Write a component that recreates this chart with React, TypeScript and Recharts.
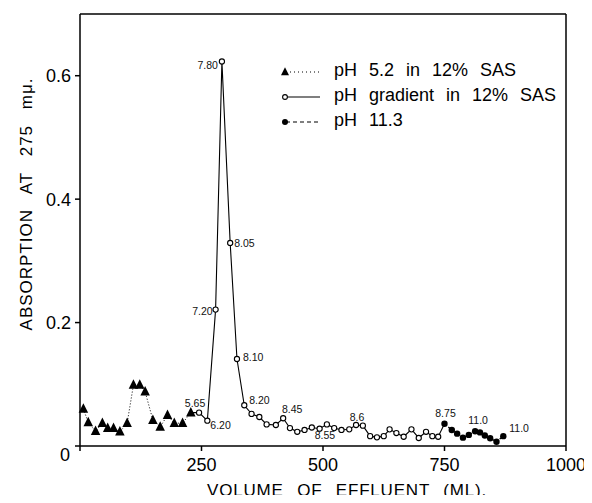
import { LineChart, Line, XAxis, YAxis, ReferenceLine, Label } from "recharts";

// pH 5.2 in 12% SAS (triangles, dotted)
const ph52Volume = [7, 17, 32, 46, 57, 69, 82, 97, 110, 123, 134, 150, 165, 180, 194, 211, 228];
const ph52Abs = [0.06, 0.038, 0.024, 0.037, 0.029, 0.029, 0.023, 0.037, 0.099, 0.099, 0.088, 0.042, 0.031, 0.05, 0.037, 0.037, 0.054];

// pH gradient in 12% SAS (open circles, solid)
const gradVolume = [
  228, 245, 262, 279, 292, 309, 323, 338, 353, 369, 384, 403, 418, 432, 447, 462, 477, 493,
  508, 523, 538, 554, 568, 582, 597, 611, 625, 637, 651, 666, 682, 697, 712, 725, 737, 750,
];
const gradAbs = [
  0.054, 0.054, 0.041, 0.221, 0.623, 0.329, 0.141, 0.066, 0.052, 0.047, 0.035, 0.034, 0.045,
  0.029, 0.023, 0.026, 0.03, 0.028, 0.035, 0.029, 0.026, 0.027, 0.034, 0.033, 0.016, 0.014,
  0.016, 0.027, 0.021, 0.015, 0.027, 0.013, 0.023, 0.016, 0.015, 0.036,
];
const gradPh = [
  "", "5.65", "6.20", "7.20", "7.80", "8.05", "8.10", "8.20", "", "", "", "", "8.45", "", "", "",
  "", "", "8.55", "", "", "", "8.6", "", "", "", "", "", "", "", "", "", "", "", "", "",
];

// pH 11.3 (filled dots, dashed)
const ph113Volume = [750, 765, 776, 788, 800, 813, 823, 833, 844, 857, 871];
const ph113Abs = [0.036, 0.026, 0.02, 0.0135, 0.018, 0.024, 0.022, 0.017, 0.0125, 0.007, 0.016];
const ph113Ph = ["8.75", "", "", "", "", "11.0", "", "", "", "", "11.0"];

const xTicks = [0, 250, 500, 750, 1000];
const yTicks = [0, 0.2, 0.4, 0.6];

const ph52Data = ph52Volume.map((v, i) => ({ volume: v, abs: ph52Abs[i] }));
const gradData = gradVolume.map((v, i) => ({ volume: v, abs: gradAbs[i], ph: gradPh[i] }));
const ph113Data = ph113Volume.map((v, i) => ({ volume: v, abs: ph113Abs[i], ph: ph113Ph[i] }));

const FONT = "'Liberation Sans', Arial, sans-serif";

// where each pH note sits relative to its point: [dx, dy, anchor]
const notePlacement: Record<string, [number, number, string]> = {
  "5.65": [-4, -10, "middle"],
  "6.20": [3, 4, "start"],
  "7.20": [-3, 1, "end"],
  "7.80": [-4, 3, "end"],
  "8.05": [4, 0, "start"],
  "8.10": [6, -2, "start"],
  "8.20": [5, -5, "start"],
  "8.45": [9, -9, "middle"],
  "8.55": [-2, 11, "middle"],
  "8.6": [1, -8, "middle"],
  "8.75": [1, -11, "middle"],
};

const renderNote = (data: { ph: string }[], lastKey: string) => (props: any) => {
  const { x, y, index } = props;
  const text = data[index]?.ph;
  if (!text) return <g key={`n-${lastKey}-${index}`} />;
  let place = notePlacement[text] || [0, -10, "middle"];
  if (text === "11.0") place = index === data.length - 1 ? [6, -8, "start"] : [3, -11, "middle"];
  return (
    <text
      key={`n-${lastKey}-${index}`}
      x={x + place[0]}
      y={y + place[1]}
      textAnchor={place[2] as any}
      dominantBaseline="central"
      fontSize={10.5}
      fontFamily={FONT}
      fill="#111"
    >
      {text}
    </text>
  );
};

const Triangle = ({ cx, cy, size = 9.5 }: { cx: number; cy: number; size?: number }) => (
  <path
    d={`M${cx},${cy - size * 0.6} L${cx + size / 2},${cy + size * 0.4} L${cx - size / 2},${cy + size * 0.4} Z`}
    fill="#000"
  />
);

const renderTriangle = (props: any) => (
  <Triangle key={`t-${props.index}`} cx={props.cx} cy={props.cy} />
);

const renderOpenDot = (props: any) => {
  const { cx, cy, index } = props;
  // first point belongs to the pH 5.2 run, last to the pH 11.3 run
  if (index === 0 || index === gradData.length - 1) return <g key={`o-${index}`} />;
  return <circle key={`o-${index}`} cx={cx} cy={cy} r={2.6} fill="#fff" stroke="#000" strokeWidth={1.1} />;
};

const renderFilledDot = (props: any) => (
  <circle key={`f-${props.index}`} cx={props.cx} cy={props.cy} r={3.2} fill="#000" />
);

const XTick = (props: any) => {
  const { x, y, payload } = props;
  const isZero = payload.value === 0;
  return (
    <text
      x={isZero ? x - 15 : x}
      y={isZero ? y + 2 : y + 12}
      textAnchor="middle"
      dominantBaseline="central"
      fontSize={18}
      fontFamily={FONT}
      fill="#000"
    >
      {payload.value}
    </text>
  );
};

const legendRows = [
  { text: "pH  5.2  in  12%  SAS", kind: "tri" },
  { text: "pH  gradient  in  12%  SAS", kind: "open" },
  { text: "pH  11.3", kind: "fill" },
];

const LegendMarker = ({ kind }: { kind: string }) => (
  <svg width={48} height={16} style={{ display: "block" }}>
    {kind === "tri" && (
      <>
        <line x1={6} y1={9} x2={40} y2={9} stroke="#000" strokeWidth={1} strokeDasharray="1 3" />
        <Triangle cx={5} cy={9} size={8} />
      </>
    )}
    {kind === "open" && (
      <>
        <line x1={7} y1={9} x2={40} y2={9} stroke="#000" strokeWidth={1.1} />
        <circle cx={5} cy={9} r={2.4} fill="#fff" stroke="#000" strokeWidth={1.1} />
      </>
    )}
    {kind === "fill" && (
      <>
        <line x1={6} y1={9} x2={40} y2={9} stroke="#000" strokeWidth={1.1} strokeDasharray="4 3" />
        <circle cx={5} cy={9} r={3} fill="#000" />
      </>
    )}
  </svg>
);

export default function App() {
  return (
    <div style={{ position: "relative", width: 584, height: 495, marginBottom: -8, background: "#fff" }}>
      <LineChart width={584} height={495} margin={{ top: 6, right: 26, bottom: 8, left: 0 }}>
        <XAxis
          dataKey="volume"
          type="number"
          domain={[0, 1000]}
          ticks={xTicks}
          tick={<XTick />}
          tickSize={5}
          height={49}
          stroke="#000"
          strokeWidth={1.5}
          allowDuplicatedCategory={false}
        >
          <Label
            content={(p: any) => (
              <text
                x={p.viewBox.x + p.viewBox.width / 2 + 24}
                y={p.viewBox.y + 44}
                textAnchor="middle"
                dominantBaseline="central"
                fontSize={17}
                fontFamily={FONT}
                letterSpacing={0.8}
                wordSpacing={8}
                fill="#000"
              >
                VOLUME OF EFFLUENT (ML).
              </text>
            )}
          />
        </XAxis>
        <YAxis
          type="number"
          domain={[0, 0.7]}
          ticks={yTicks}
          width={72}
          tickSize={5}
          tickMargin={4}
          stroke="#000"
          strokeWidth={1.5}
          tickFormatter={(v: number) => (v === 0 ? "" : v.toFixed(1))}
          tick={{ fill: "#000", fontSize: 18, fontFamily: FONT }}
        >
          <Label
            content={(p: any) => (
              <text
                x={18}
                y={p.viewBox.y + 190}
                transform={`rotate(-90, 18, ${p.viewBox.y + 190})`}
                textAnchor="middle"
                dominantBaseline="central"
                fontSize={17}
                fontFamily={FONT}
                letterSpacing={1}
                wordSpacing={10}
                fill="#000"
              >
                ABSORPTION AT 275 mμ.
              </text>
            )}
          />
        </YAxis>
        <ReferenceLine y={0.7} stroke="#000" strokeWidth={1.5} />
        <ReferenceLine x={1000} stroke="#000" strokeWidth={1.5} />
        <Line
          data={ph52Data}
          dataKey="abs"
          stroke="#000"
          strokeWidth={1}
          strokeDasharray="1 2"
          dot={renderTriangle}
          isAnimationActive={false}
        />
        <Line
          data={gradData}
          dataKey="abs"
          stroke="#000"
          strokeWidth={1.1}
          dot={renderOpenDot}
          label={renderNote(gradData, "g")}
          isAnimationActive={false}
        />
        <Line
          data={ph113Data}
          dataKey="abs"
          stroke="#000"
          strokeWidth={1.3}
          strokeDasharray="3 2"
          dot={renderFilledDot}
          label={renderNote(ph113Data, "b")}
          isAnimationActive={false}
        />
      </LineChart>
      <div style={{ position: "absolute", left: 272, top: 50, fontFamily: FONT, fontSize: 18 }}>
        {legendRows.map((r) => (
          <div key={r.kind} style={{ display: "flex", alignItems: "center", height: 25 }}>
            <LegendMarker kind={r.kind} />
            <span style={{ whiteSpace: "pre", marginLeft: 6, wordSpacing: 1 }}>{r.text}</span>
          </div>
        ))}
      </div>
    </div>
  );
}
